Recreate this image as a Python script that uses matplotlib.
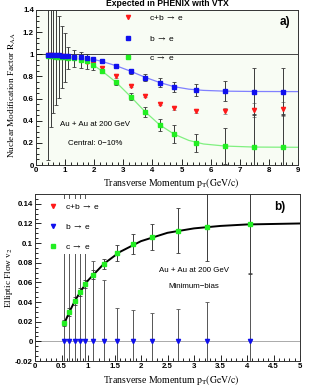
import matplotlib
matplotlib.use('Agg')
import matplotlib.pyplot as plt
from matplotlib.ticker import MultipleLocator, FixedLocator

plt.rcParams['font.family'] = ['Liberation Sans', 'DejaVu Sans']
plt.rcParams['mathtext.fontset'] = 'stix'

# ---- panel a) R_AA vs pT ----
pt_a = [0.4, 0.5, 0.6, 0.7, 0.8, 0.9, 1.0, 1.1, 1.3, 1.55, 1.75, 1.95, 2.25,
        2.75, 3.25, 3.75, 4.25, 4.75, 5.5, 6.5, 7.5, 8.5]
raa_b = [0.995, 0.995, 0.993, 0.992, 0.99, 0.988, 0.985, 0.982, 0.978, 0.972,
         0.966, 0.96, 0.935, 0.895, 0.845, 0.79, 0.745, 0.705, 0.678, 0.667,
         0.663, 0.662]
raa_b_err = [0.01, 0.01, 0.01, 0.01, 0.01, 0.01, 0.01, 0.01, 0.01, 0.01, 0.01,
             0.01, 0.012, 0.015, 0.02, 0.03, 0.038, 0.045, 0.057, 0.09, 0.21, 0.21]
raa_cb = [0.99, 0.99, 0.988, 0.986, 0.984, 0.982, 0.978, 0.972, 0.962, 0.948,
          0.932, 0.91, 0.872, 0.80, 0.716, 0.626, 0.555, 0.512, 0.488, 0.488,
          0.497, 0.506]
raa_cb_err = [0.01, 0.01, 0.01, 0.01, 0.01, 0.01, 0.01, 0.01, 0.01, 0.01, 0.01,
              0.01, 0.01, 0.01, 0.01, 0.012, 0.015, 0.015, 0.02, 0.03, 0.06, 0.06]
raa_c = [0.985, 0.984, 0.982, 0.98, 0.978, 0.975, 0.972, 0.968, 0.962, 0.95,
         0.935, 0.905, 0.85, 0.747, 0.617, 0.479, 0.361, 0.277, 0.20, 0.172,
         0.162, 0.16]
raa_c_err = [0.94, 0.64, 0.51, 0.44, 0.37, 0.28, 0.22, 0.10, 0.075, 0.07, 0.065,
             0.05, 0.02, 0.02, 0.03, 0.045, 0.05, 0.08, 0.08, 0.16, 0.3, 0.3]

fit_b_x = [1.9, 2.25, 2.75, 3.25, 3.75, 4.25, 4.75, 5.25, 5.75, 6.5, 7.5, 9.0]
fit_b_y = [0.958, 0.937, 0.897, 0.847, 0.792, 0.745, 0.707, 0.685, 0.674, 0.667, 0.664, 0.663]
fit_c_x = [1.9, 2.25, 2.75, 3.25, 3.75, 4.25, 4.75, 5.25, 5.75, 6.5, 7.5, 9.0]
fit_c_y = [0.915, 0.852, 0.748, 0.618, 0.481, 0.362, 0.278, 0.222, 0.19, 0.171, 0.162, 0.16]

# ---- panel b) v2 vs pT ----
pt_b = [0.55, 0.65, 0.75, 0.85, 0.95, 1.1, 1.3, 1.55, 1.85, 2.2, 2.7, 3.25, 4.05]
v2_c = [0.019, 0.030, 0.041, 0.050, 0.058, 0.068, 0.079, 0.090, 0.099, 0.1065,
        0.1125, 0.1165, 0.119]
v2_c_err = [0.003, 0.004, 0.004, 0.004, 0.004, 0.005, 0.005, 0.008, 0.010,
            0.013, 0.023, 0.035, 0.05]
v2_b = [0, 0, 0, 0, 0, 0, 0, 0, 0, 0, 0, 0, 0]
v2_b_err = [0.2, 0.2, 0.2, 0.2, 0.2, 0.082, 0.062, 0.034, 0.0315, 0.029, 0.033,
            0.04, 0.07]
fit_v2_x = [0.55, 0.65, 0.75, 0.85, 1.0, 1.3, 1.6, 2.0, 2.5, 3.0, 3.5, 4.0, 4.5, 5.0]
fit_v2_y = [0.018, 0.030, 0.041, 0.050, 0.062, 0.079, 0.091, 0.102, 0.1105,
            0.115, 0.1175, 0.119, 0.1195, 0.120]

RED = '#ff1a1a'
BLUE = '#1010ee'
GREEN = '#22ee22'
ERRC = '#3a3a3a'

fig = plt.figure(figsize=(3.33, 3.88), dpi=100)
W, H = 333.0, 388.0


def style_axes(ax):
    ax.tick_params(which='both', direction='in', top=False, right=False,
                   labelsize=5.7, pad=1.5, width=0.6)
    ax.tick_params(which='major', length=4)
    ax.tick_params(which='minor', length=2)
    for lab in ax.get_xticklabels() + ax.get_yticklabels():
        lab.set_fontweight('bold')
    for s in ax.spines.values():
        s.set_linewidth(0.7)
        s.set_color('#333333')


# top panel
ax1 = fig.add_axes([36 / W, 1 - 165 / H, 262 / W, 155 / H])
ax1.set_facecolor('#f8fcf4')
ax1.set_xlim(0, 9)
ax1.set_ylim(0, 1.4)
ax1.axhline(1.0, color='#444444', lw=0.7, zorder=1)
ax1.errorbar(pt_a, raa_cb, yerr=raa_cb_err, fmt='none', ecolor='#888888',
             elinewidth=0.7, capsize=1.3, capthick=0.6, zorder=2)
ax1.errorbar(pt_a, raa_c, yerr=raa_c_err, fmt='none', ecolor=ERRC,
             elinewidth=0.7, capsize=1.3, capthick=0.6, zorder=2)
ax1.errorbar(pt_a, raa_b, yerr=raa_b_err, fmt='none', ecolor=ERRC,
             elinewidth=0.7, capsize=1.3, capthick=0.6, zorder=2)
ax1.plot(fit_b_x, fit_b_y, color='#8080ff', lw=0.9, zorder=3)
ax1.plot(fit_c_x, fit_c_y, color='#80f080', lw=0.9, zorder=3)
h_cb, = ax1.plot(pt_a, raa_cb, 'v', color=RED, ms=3, ls='none', zorder=4,
                 label=r'c+b $\rightarrow$ e')
h_b, = ax1.plot(pt_a, raa_b, 's', color=BLUE, ms=2.6, ls='none', zorder=5,
                label=r'b $\rightarrow$ e')
h_c, = ax1.plot(pt_a, raa_c, 's', color=GREEN, ms=2.6, ls='none', zorder=4,
                label=r'c $\rightarrow$ e')
ax1.xaxis.set_major_locator(MultipleLocator(1))
ax1.xaxis.set_minor_locator(MultipleLocator(0.2))
ax1.yaxis.set_major_locator(FixedLocator([0, 0.2, 0.4, 0.6, 0.8, 1.0, 1.2, 1.4]))
ax1.yaxis.set_minor_locator(MultipleLocator(0.05))
ax1.set_yticklabels(['0', '0.2', '0.4', '0.6', '0.8', '1', '1.2', '1.4'])
style_axes(ax1)
ax1.legend(handles=[h_cb, h_b, h_c], loc='upper left',
           bbox_to_anchor=(0.323, 1.0), frameon=False, fontsize=6,
           handlelength=1.0, handletextpad=2.0, labelspacing=1.35,
           borderaxespad=0, borderpad=0.4, numpoints=1)
ax1.text(0.82, 0.37, 'Au + Au at 200 GeV', fontsize=5.7, va='center', ha='left')
ax1.text(1.1, 0.19, 'Central: 0\u221210%', fontsize=5.7, va='center', ha='left')
ax1.text(8.56, 1.295, 'a)', fontsize=8.5, fontweight='bold', ha='center',
         va='center')

fig.text(167 / W, 1 - 4 / H, 'Expected in PHENIX with VTX', fontsize=6.2,
         fontweight='bold', ha='center', va='center')
fig.text(171 / W, 1 - 183 / H, r'Transverse Momentum $\mathrm{p_T(GeV/c)}$',
         family='Liberation Serif', fontsize=7, ha='center', va='center')
fig.text(12 / W, 1 - 95 / H, r'Nuclear Modification Factor $\mathrm{R_{AA}}$',
         family='Liberation Serif', fontsize=6.7, ha='center', va='center',
         rotation=90)

# bottom panel
ax2 = fig.add_axes([35 / W, 1 - 361 / H, 265 / W, 167 / H])
ax2.set_xlim(0, 5)
ax2.set_ylim(-0.02, 0.15)
ax2.axhline(0.0, color='#aaaaaa', lw=0.7, zorder=1)
ax2.errorbar(pt_b, v2_b, yerr=v2_b_err, fmt='none', ecolor='#555555',
             elinewidth=0.7, capsize=1.3, capthick=0.6, zorder=2)
ax2.errorbar(pt_b, v2_c, yerr=v2_c_err, fmt='none', ecolor=ERRC,
             elinewidth=0.7, capsize=1.3, capthick=0.6, zorder=2)
ax2.plot(fit_v2_x, fit_v2_y, color='black', lw=1.4, zorder=3)
g_cb, = ax2.plot([], [], 'v', color=RED, ms=3, ls='none',
                 label=r'c+b $\rightarrow$ e')
g_b, = ax2.plot(pt_b, v2_b, 'v', color=BLUE, ms=3, ls='none', zorder=4,
                label=r'b $\rightarrow$ e')
g_c, = ax2.plot(pt_b, v2_c, 's', color=GREEN, ms=3.2, ls='none', zorder=4,
                label=r'c $\rightarrow$ e')
ax2.xaxis.set_major_locator(MultipleLocator(0.5))
ax2.xaxis.set_minor_locator(MultipleLocator(0.1))
ax2.set_xticks([0, 0.5, 1, 1.5, 2, 2.5, 3, 3.5, 4, 4.5, 5])
ax2.set_xticklabels(['0', '0.5', '1', '1.5', '2', '2.5', '3', '3.5', '4', '4.5', '5'])
ax2.set_yticks([-0.02, 0, 0.02, 0.04, 0.06, 0.08, 0.1, 0.12, 0.14])
ax2.set_yticklabels(['-0.02', '0', '0.02', '0.04', '0.06', '0.08', '0.1',
                     '0.12', '0.14'])
ax2.yaxis.set_minor_locator(MultipleLocator(0.005))
style_axes(ax2)
leg2 = ax2.legend(handles=[g_cb, g_b, g_c], loc='upper left',
                  bbox_to_anchor=(0.039, 0.972), frameon=True, fontsize=6,
                  handlelength=1.0, handletextpad=1.0, labelspacing=1.35,
                  borderaxespad=0, borderpad=0.4, numpoints=1, fancybox=False,
                  framealpha=1.0, facecolor='white', edgecolor='none')
leg2.set_zorder(10)
ax2.text(3.0, 0.0718, 'Au + Au at 200 GeV', fontsize=5.7, ha='center', va='center')
ax2.text(3.0, 0.0558, 'Minimum\u2212bias', fontsize=5.7, ha='center', va='center')
ax2.text(4.62, 0.137, 'b)', fontsize=8.5, fontweight='bold', ha='center',
         va='center')

fig.text(171 / W, 1 - 380 / H, r'Transverse Momentum $\mathrm{p_T(GeV/c)}$',
         family='Liberation Serif', fontsize=7, ha='center', va='center')
fig.text(9 / W, 1 - 278 / H, r'Elliptic Flow $\mathrm{v_2}$',
         family='Liberation Serif', fontsize=6.7, ha='center', va='center',
         rotation=90)

fig.savefig('out.png', dpi=100)
